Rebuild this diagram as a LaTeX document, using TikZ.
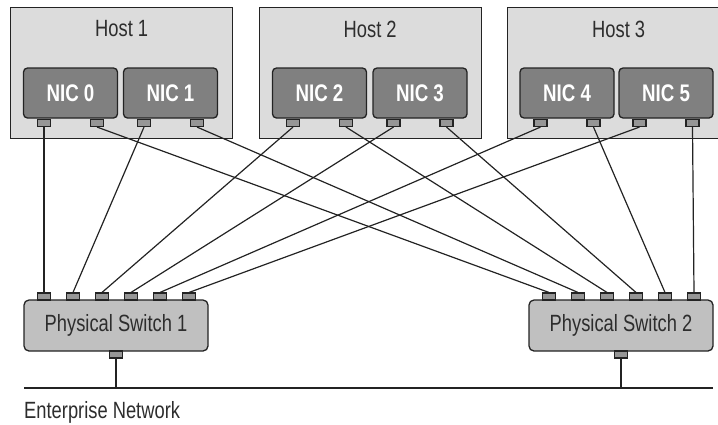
\documentclass[tikz,border=0pt]{standalone}
\usepackage{fontspec}
\setmainfont[FakeStretch=0.78]{Liberation Sans}
\usetikzlibrary{positioning, calc}
\definecolor{HostFill}{RGB}{220,220,220}
\definecolor{NicFill}{RGB}{128,128,128}
\definecolor{SwFill}{RGB}{192,192,192}
\definecolor{PortFill}{RGB}{150,150,150}
\definecolor{LineGray}{RGB}{35,35,35}
\definecolor{TextGray}{RGB}{45,45,45}

\begin{document}
\begin{tikzpicture}[x=1pt, y=-1pt,
    host/.style={rectangle, draw=LineGray, fill=HostFill, line width=1.3pt,
                 minimum width=222pt, minimum height=131pt,
                 anchor=north west, inner sep=0pt},
    hostlabel/.style={font=\fontsize{23.5}{25}\selectfont, text=TextGray},
    nic/.style={rectangle, draw=LineGray, fill=NicFill, line width=1.3pt,
                rounded corners=4pt, minimum width=94pt, minimum height=50pt,
                font=\fontsize{24}{26}\selectfont\bfseries, text=white},
    port/.style={rectangle, draw=LineGray, fill=PortFill, line width=1.1pt,
                 minimum width=13pt, minimum height=7pt, inner sep=0pt},
    switch/.style={rectangle, draw=LineGray, fill=SwFill, line width=1.3pt,
                   rounded corners=5pt, minimum width=184pt, minimum height=51pt,
                   font=\fontsize{23.5}{25}\selectfont, text=TextGray},
    wire/.style={draw=LineGray, line width=1.2pt}
  ]
  \useasboundingbox (0,0) rectangle (718,424);

  % Hosts
  \foreach \h/\x in {1/10, 2/258.5, 3/507} {
    \node[host] (host\h) at (\x,7) {};
    \node[hostlabel] (host\h-lbl) at ($(host\h.north)+(0,22)$) {Host \h};
  }

  % NICs with their two ports
  \foreach \n/\x in {0/70.5, 1/170.5, 2/319.5, 3/420, 4/567, 5/666} {
    \node[nic] (nic\n) at (\x,93) {NIC \n};
    \node[port] (nic\n-a) at (\x-26.5,123) {};
    \node[port] (nic\n-b) at (\x+26.5,123) {};
  }

  % Switches
  \foreach \s/\x in {1/116, 2/621} {
    \node[switch] (sw\s) at (\x,325.5) {Physical Switch \s};
    \foreach \k in {1,...,6}
      \node[port] (sw\s-\k) at (\x-101+29*\k,296.5) {};
    \node[port] (up\s) at (\x,354.5) {};
  }

  % Enterprise network
  \coordinate (netL) at (24,388);
  \coordinate (netR) at (713,388);
  \draw[wire, line width=1.5pt] (netL) -- (netR);
  \foreach \s in {1,2}
    \draw[wire, line width=1.5pt] (up\s.south) -- (up\s.south |- netL);
  \node[anchor=base west, inner sep=0pt, font=\fontsize{23.5}{25}\selectfont,
        text=TextGray] (netlbl) at (24,418.5) {Enterprise Network};

  % Cabling: port a to switch 1, port b to switch 2
  \foreach \n [evaluate=\n as \k using int(\n+1)] in {0,...,5} {
    \draw[wire] (nic\n-a.south) -- (sw1-\k.north);
    \draw[wire] (nic\n-b.south) -- (sw2-\k.north);
  }
\end{tikzpicture}
\end{document}
